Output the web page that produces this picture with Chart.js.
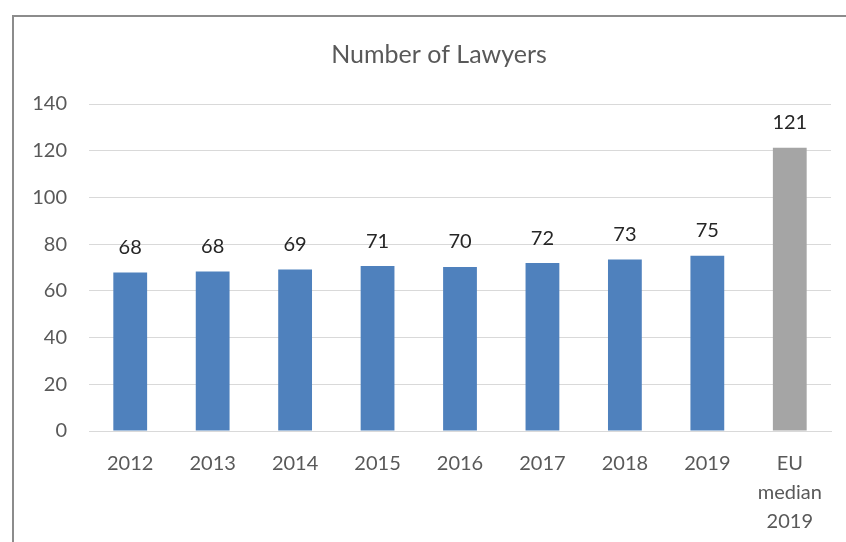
<!DOCTYPE html>
<html>
<head>
<meta charset="utf-8">
<script src="https://cdn.jsdelivr.net/npm/chart.js@4"></script>
<style>
  body { margin: 0; background: #fff; overflow: hidden; }
  #frame { position: absolute; left: 12px; top: 15px; width: 900px; height: 600px; border: 2px solid #8c8c8c; box-sizing: border-box; }
  #wrap { position: absolute; left: 0; top: 0; width: 846px; height: 542px; }
</style>
</head>
<body>
<div id="frame"></div>
<div id="wrap"><canvas id="chart-area"></canvas></div>
<script>
var title = "Number of Lawyers";
var labels = ["2012", "2013", "2014", "2015", "2016", "2017", "2018", "2019", ["EU", "median", "2019"]];
var lawyers = [67.9, 68.3, 69.1, 70.6, 70.2, 71.9, 73.4, 75.0, 121.3];
var colours = ["#4F81BD", "#4F81BD", "#4F81BD", "#4F81BD", "#4F81BD", "#4F81BD", "#4F81BD", "#4F81BD", "#A5A5A5"];

var fontName = "Lato, 'Open Sans', sans-serif";

// title is centred on the whole chart box (wider than the window), so draw it by hand
var chartTitle = {
  id: 'chartTitle',
  afterDraw: function(chart) {
    var ctx = chart.ctx;
    ctx.save();
    ctx.font = "25px " + fontName;
    ctx.fillStyle = "#595959";
    ctx.textAlign = "center";
    ctx.textBaseline = "middle";
    ctx.fillText(title, 439, 55);
    ctx.restore();
  }
};

// rounded value above each bar
var valueLabels = {
  id: 'valueLabels',
  afterDatasetsDraw: function(chart) {
    var ctx = chart.ctx;
    var meta = chart.getDatasetMeta(0);
    ctx.save();
    ctx.font = "20px " + fontName;
    ctx.fillStyle = "#262626";
    ctx.textAlign = "center";
    ctx.textBaseline = "middle";
    meta.data.forEach(function(bar, i) {
      ctx.fillText(Math.round(lawyers[i]), bar.x, bar.y - 25);
    });
    ctx.restore();
  }
};

var config = {
  type: 'bar',
  data: {
    labels: labels,
    datasets: [{
      data: lawyers,
      backgroundColor: colours,
      barPercentage: 0.41,
      categoryPercentage: 1.0
    }]
  },
  options: {
    responsive: true,
    maintainAspectRatio: false,
    animation: false,
    layout: { padding: { left: 0, right: 15, top: 104, bottom: 0 } },
    plugins: {
      legend: { display: false },
      tooltip: { enabled: false },
      title: { display: false }
    },
    scales: {
      x: {
        grid: { display: false },
        border: { display: true, color: '#D9D9D9', width: 1 },
        ticks: {
          color: '#595959',
          font: { family: fontName, size: 20, lineHeight: 1.45 },
          padding: 10,
          maxRotation: 0,
          autoSkip: false
        },
        afterFit: function(scale) { scale.height = 111; }
      },
      y: {
        min: 0,
        max: 140,
        ticks: {
          stepSize: 20,
          color: '#595959',
          font: { family: fontName, size: 20 },
          padding: 22
        },
        grid: { color: '#D9D9D9', lineWidth: 1, drawTicks: false },
        border: { display: false },
        afterFit: function(scale) { scale.width = 89; }
      }
    }
  },
  plugins: [valueLabels, chartTitle]
};

window.onload = function() {
  var ctx = document.getElementById("chart-area").getContext("2d");
  window.myBar = new Chart(ctx, config);
};
</script>
</body>
</html>
